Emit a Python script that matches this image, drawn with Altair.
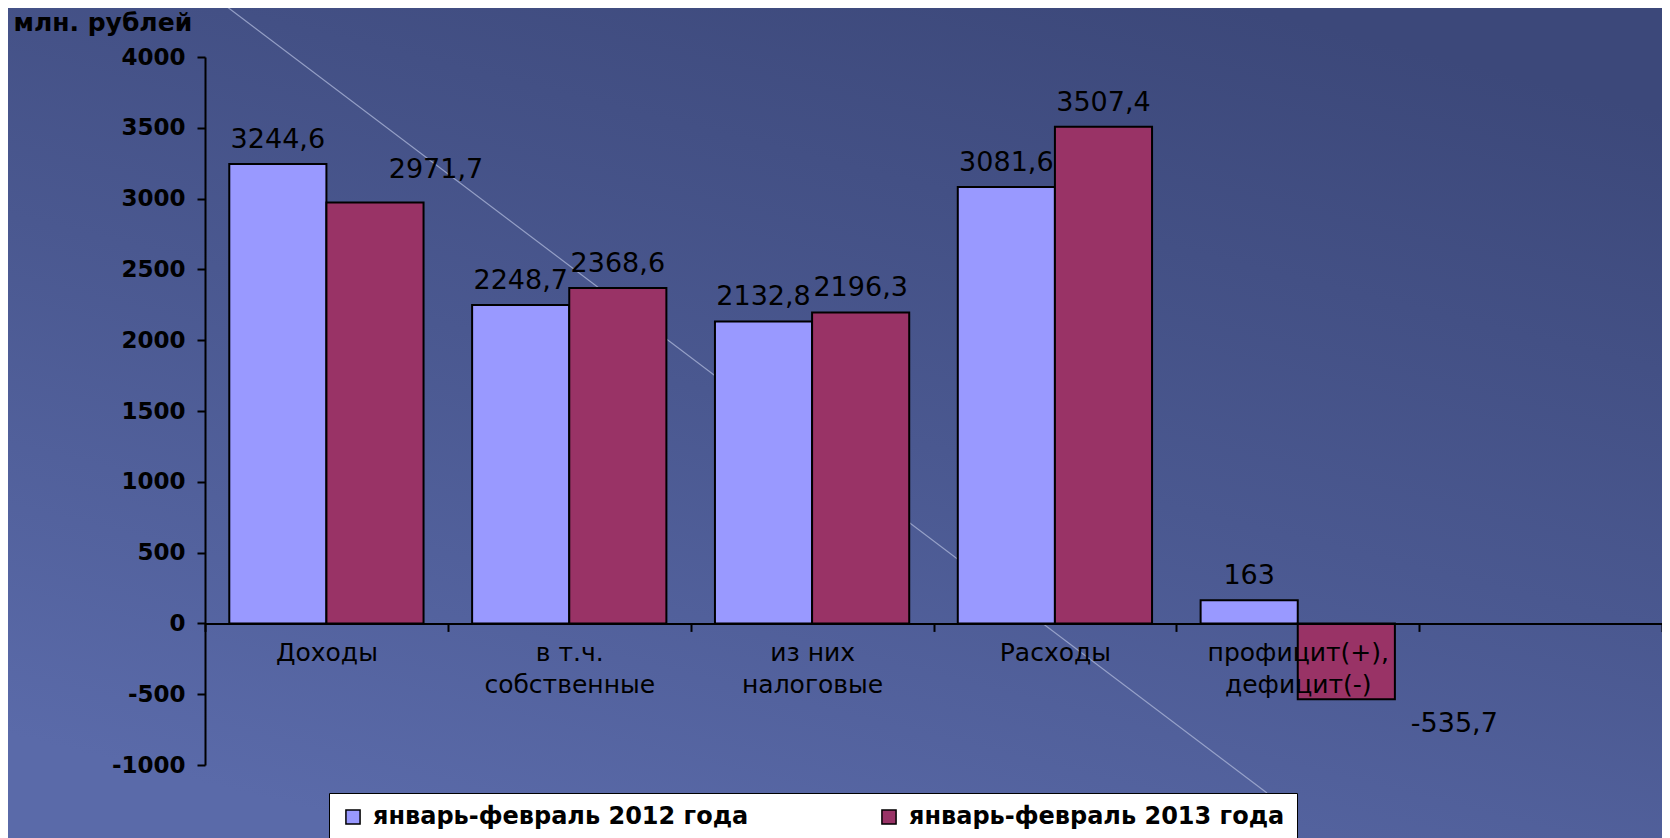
import altair as alt
import pandas as pd

# ---- data ----
categories = ["Доходы", "в т.ч.\nсобственные", "из них\nналоговые", "Расходы", "профицит(+),\nдефицит(-)"]
slots = categories + [" "]          # Excel chart keeps an empty sixth slot
series = ["январь-февраль 2012 года", "январь-февраль 2013 года"]
values_2012 = [3244.6, 2248.7, 2132.8, 3081.6, 163.0]
values_2013 = [2971.7, 2368.6, 2196.3, 3507.4, -535.7]
y_ticks = [-1000, -500, 0, 500, 1000, 1500, 2000, 2500, 3000, 3500, 4000]
y_title = "млн. рублей"
colors = ["#9999ff", "#993366"]

rows = []
for c, a, b in zip(categories, values_2012, values_2013):
    rows.append({"cat": c, "series": series[0], "value": a})
    rows.append({"cat": c, "series": series[1], "value": b})
df = pd.DataFrame(rows)

W, H = 1457, 708
FONT = "DejaVu Sans"

x_enc = alt.X(
    "cat:N",
    scale=alt.Scale(domain=slots, paddingInner=0, paddingOuter=0),
    axis=alt.Axis(
        title=None, orient="bottom", offset=-H / 5, tickBand="extent",
        domainColor="black", domainWidth=2, tickColor="black", tickWidth=2, tickSize=8,
        labelFont=FONT, labelFontSize=25, labelColor="black", labelAngle=0,
        labelPadding=9, labelLineHeight=32, labelBaseline="top", labelLimit=0,
        labelExpr="split(datum.label, '\\n')", zindex=2,
    ),
)
xoff_enc = alt.XOffset("series:N", scale=alt.Scale(domain=series, paddingInner=0, paddingOuter=0.25))
y_enc = alt.Y(
    "value:Q",
    scale=alt.Scale(domain=[-1000, 4000], nice=False, zero=False),
    axis=alt.Axis(
        values=y_ticks, grid=False, title=y_title,
        titleAngle=0, titleX=-192, titleY=-35, titleAlign="left", titleBaseline="middle",
        titleFont=FONT, titleFontSize=25, titleFontWeight="bold", titleColor="black",
        domainColor="black", domainWidth=2, tickColor="black", tickWidth=2, tickSize=8,
        labelFont=FONT, labelFontSize=23, labelFontWeight="bold", labelColor="black",
        labelPadding=12,
        labelExpr="datum.value < 0 ? '-' + abs(datum.value) : '' + datum.value",
        zindex=2,
    ),
)

one = pd.DataFrame({"k": [0]})
background = alt.Chart(one).mark_rect(
    color=alt.LinearGradient(
        gradient="linear",
        stops=[alt.GradientStop(color="#3c487a", offset=0),
               alt.GradientStop(color="#4a5890", offset=0.5),
               alt.GradientStop(color="#5a6aa9", offset=1)],
        x1=0.75, y1=0, x2=0.25, y2=1,
    )
).encode(x=alt.value(-197), x2=alt.value(W), y=alt.value(-49), y2=alt.value(H + 73))

diagonal = alt.Chart(one).mark_rule(color="#a9b3d6", strokeWidth=1.2, opacity=0.8).encode(
    x=alt.value(13), y=alt.value(-57), x2=alt.value(1062), y2=alt.value(736)
)

bars = alt.Chart(df).mark_bar(stroke="black", strokeWidth=2, opacity=1).encode(
    x=x_enc, xOffset=xoff_enc, y=y_enc,
    color=alt.Color(
        "series:N",
        scale=alt.Scale(domain=series, range=colors),
        legend=alt.Legend(
            orient="none", legendX=124, legendY=736, direction="horizontal", title=None,
            fillColor="white", strokeColor="black", padding=12, columnPadding=128,
            symbolType="square", symbolSize=200, symbolStrokeColor="black",
            symbolStrokeWidth=1.5, symbolOpacity=1, labelLimit=0,
            labelFont=FONT, labelFontSize=24, labelFontWeight="bold", labelColor="black",
            labelOffset=8, zindex=3,
        ),
    ),
)

label_expr = "replace(replace(format(datum.value, '.1~f'), '.', ','), '\u2212', '-')"
text_base = alt.Chart(df).transform_calculate(label=label_expr).encode(
    x=x_enc, xOffset=xoff_enc, y=y_enc, text="label:N"
)
special = f"datum.cat == '{categories[0]}' && datum.series == '{series[1]}'"

labels_pos = text_base.transform_filter(f"datum.value >= 0 && !({special})").mark_text(
    baseline="middle", dy=-24, font=FONT, fontSize=27, color="black"
)
labels_first = text_base.transform_filter(special).mark_text(
    baseline="middle", dx=61, dy=-33, font=FONT, fontSize=27, color="black"
)
labels_neg = text_base.transform_filter("datum.value < 0").mark_text(
    baseline="middle", dx=108, dy=25, font=FONT, fontSize=27, color="black"
)

chart = alt.layer(background, diagonal, bars, labels_pos, labels_first, labels_neg).properties(
    width=W, height=H,
    padding={"left": 197, "top": 49, "right": 0, "bottom": 73},
    autosize=alt.AutoSizeParams(type="none"),
    background="#46548a",
).configure_view(stroke=None)

chart.save("out.html", embed_options={"renderer": "svg", "actions": False})
